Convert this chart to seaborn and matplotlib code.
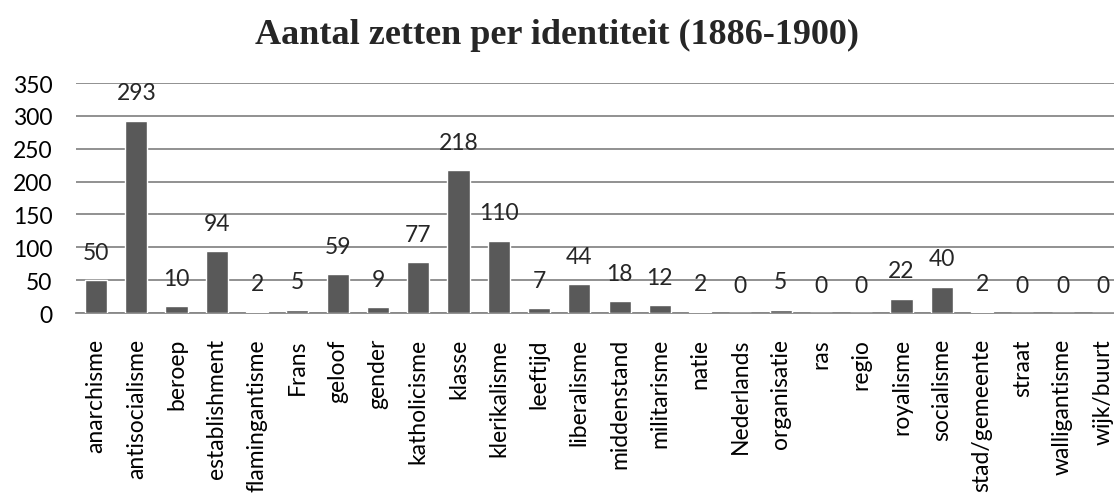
import matplotlib
matplotlib.use('Agg')
import matplotlib.pyplot as plt
import seaborn as sns
import pandas as pd

identiteiten = ['anarchisme', 'antisocialisme', 'beroep', 'establishment', 'flamingantisme',
                'Frans', 'geloof', 'gender', 'katholicisme', 'klasse', 'klerikalisme', 'leeftijd',
                'liberalisme', 'middenstand', 'militarisme', 'natie', 'Nederlands', 'organisatie',
                'ras', 'regio', 'royalisme', 'socialisme', 'stad/gemeente', 'straat',
                'walligantisme', 'wijk/buurt']
zetten = [50, 293, 10, 94, 2, 5, 59, 9, 77, 218, 110, 7, 44, 18, 12, 2, 0, 5, 0, 0, 22, 40, 2, 0, 0, 0]

df = pd.DataFrame({'identiteit': identiteiten, 'zetten': zetten})

sns.set_style('white')
plt.rcParams['font.family'] = ['Lato', 'DejaVu Sans']

fig = plt.figure(figsize=(11.14, 5.02), dpi=100)
ax = fig.add_axes([0.0681, 0.3745, 0.94, 0.458])

sns.barplot(data=df, x='identiteit', y='zetten', color='#595959', saturation=1,
            width=0.55, ax=ax, zorder=3)

ax.set_ylim(0, 350)
ax.set_yticks(range(0, 351, 50))
ax.set_xlim(-0.5, len(identiteiten) - 0.5)
ax.yaxis.grid(True, color='#888888', linewidth=1.3, zorder=0)
ax.set_axisbelow(True)
for s in ['top', 'right', 'left']:
    ax.spines[s].set_visible(False)
ax.spines['bottom'].set_color('#888888')
ax.spines['bottom'].set_linewidth(1.3)
ax.tick_params(axis='both', length=0, labelsize=16.5, colors='black')
ax.tick_params(axis='y', pad=17)
ax.set_xlabel('')
ax.set_ylabel('')
ax.set_xticks(range(len(identiteiten)))
ax.set_xticklabels(identiteiten, rotation=90, va='top', ha='center')
ax.tick_params(axis='x', pad=18)

for i, v in enumerate(zetten):
    ax.annotate(str(v), (i, v), xytext=(0, 20), textcoords='offset points',
                ha='center', va='center', fontsize=16.5, zorder=4)

fig.suptitle('Aantal zetten per identiteit (1886-1900)', family='Liberation Serif',
             fontweight='bold', fontsize=26, y=0.963)

fig.savefig('out.png', dpi=100)
